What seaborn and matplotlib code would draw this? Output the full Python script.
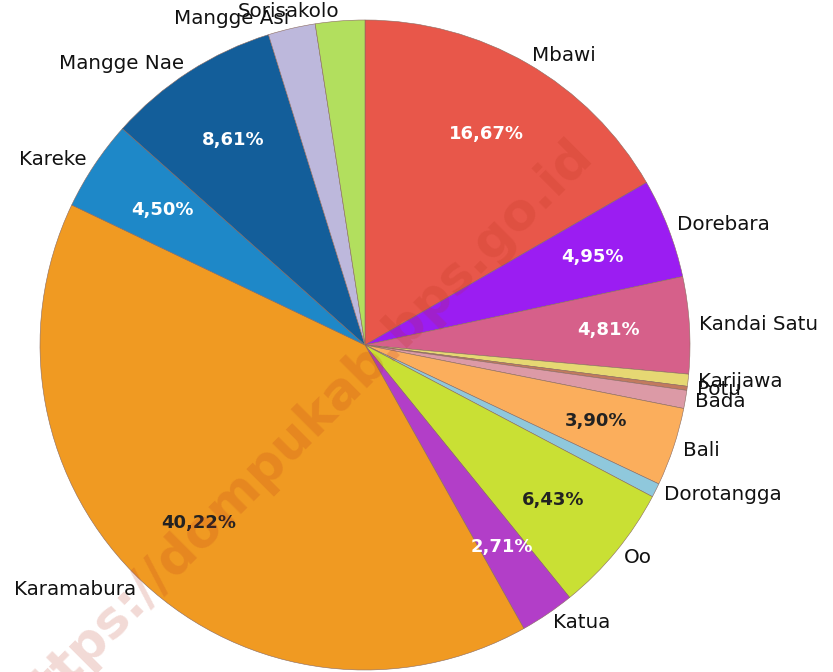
import matplotlib
matplotlib.use("Agg")
import matplotlib.pyplot as plt
import seaborn as sns

# ---- data (clockwise from 12 o'clock) ----
categories = ["Mbawi", "Dorebara", "Kandai Satu", "Karijawa", "Potu", "Bada",
              "Bali", "Dorotangga", "Oo", "Katua", "Karamabura", "Kareke",
              "Mangge Nae", "Mangge Asi", "Sorisakolo"]
values = [16.67, 4.95, 4.81, 0.60, 0.20, 0.90,
          3.90, 0.70, 6.43, 2.71, 40.22, 4.50,
          8.61, 2.35, 2.45]
colors = ["#E8574A", "#9B1DF2", "#D6608A", "#E6D873", "#C27A5E", "#DC9AA6",
          "#FBAE5C", "#8FC8DC", "#C9E034", "#B23EC8", "#F09A22", "#1E88C8",
          "#135E9A", "#BDB8DC", "#B2DF5E"]
pct_text_colors = ["white", "white", "white", "white", "white", "white",
                   "#222222", "white", "#222222", "white", "#222222", "white",
                   "white", "white", "white"]
watermark = "https://dompukab.bps.go.id"

sns.set_theme(style="white")
plt.rcParams['font.family'] = ['DejaVu Sans']

W, H = 833, 672
fig = plt.figure(figsize=(W / 100, H / 100), dpi=100)
cx, cy, r = 365, 345, 325
ax = fig.add_axes([(cx - r) / W, (H - cy - r) / H, 2 * r / W, 2 * r / H])

palette = sns.color_palette(colors)


def fmt(p):
    return ("%.2f%%" % p).replace(".", ",") if p >= 2.5 else ""


wedges, texts, autotexts = ax.pie(
    values, labels=categories, colors=palette, startangle=90, counterclock=False,
    autopct=fmt, pctdistance=0.75, labeldistance=1.03,
    wedgeprops=dict(linewidth=0.4, edgecolor="#8a6a60"),
    textprops=dict(fontsize=14.3, color="#111111"))

for t, c in zip(autotexts, pct_text_colors):
    t.set_color(c)
    t.set_fontsize(13)
    t.set_fontweight("bold")

ax.set_xlim(-1, 1)
ax.set_ylim(-1, 1)
ax.set_aspect("equal")
ax.axis("off")

fig.text(300 / W, 1 - 432 / H, watermark, rotation=45, fontsize=37,
         fontweight="bold", color="#B8301A", alpha=0.18,
         ha="center", va="center", rotation_mode="anchor")

fig.savefig("out.png", dpi=100, facecolor="white")
